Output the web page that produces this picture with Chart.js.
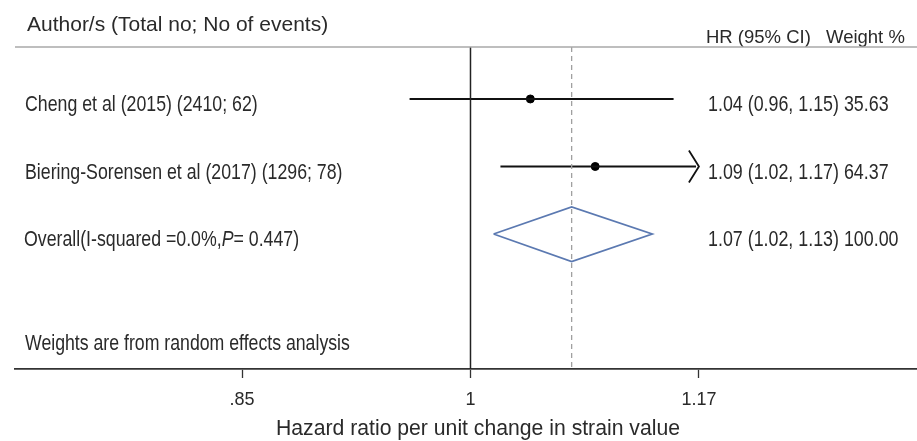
<!DOCTYPE html>
<html>
<head>
<meta charset="utf-8">
<script src="https://cdn.jsdelivr.net/npm/chart.js@4"></script>
<style>
  html, body { margin: 0; padding: 0; background: #fff; }
  #wrap { width: 917px; height: 441px; }
</style>
</head>
<body>
<div id="wrap"><canvas id="forest" width="917" height="441"></canvas></div>
<script>
// study rows (top to bottom)
const studies = ['Cheng et al (2015) (2410; 62)', 'Biering-Sorensen et al (2017) (1296; 78)'];
const hr = [1.042, 1.0895];
const lower = [0.959, 1.0208];
const upper = [1.1498, 1.174];
const weights = ['35.63', '64.37'];

// pooled estimate
const overallLabel = ['Overall(I-squared =0.0%,', 'P', '= 0.447)'];
const overallHr = 1.072;
const overallLower = 1.016;
const overallUpper = 1.133;
const overallWeight = '100.00';

// x axis (log scale, Stata style)
const tickValues = [1 / 1.17, 1, 1.17];
const tickLabels = ['.85', '1', '1.17'];

const FONT = '"Liberation Sans", Arial, sans-serif';
const TEXT = '#2a2a2a';

const rows = studies.map((_, i) => i + 1);
const overallRow = studies.length + 1;
const Y_MIN = 0.23, Y_MAX = 5.0;
const X_MIN = 0.7312, X_MAX = 1.3592;
const axisMax = tickValues[tickValues.length - 1];

const fmt = (v) => v.toFixed(2);

const ciSets = studies.map((s, i) => ({
  type: 'line',
  data: [{ x: lower[i], y: rows[i] }, { x: Math.min(upper[i], axisMax * 0.998), y: rows[i] }],
  borderColor: '#111',
  borderWidth: 2,
  pointRadius: 0,
  fill: false
}));

const pointSet = {
  type: 'scatter',
  data: hr.map((v, i) => ({ x: v, y: rows[i] })),
  backgroundColor: '#000',
  borderColor: '#000',
  pointRadius: 4
};

const diamondSet = {
  type: 'line',
  data: [
    { x: overallLower, y: overallRow },
    { x: overallHr, y: overallRow - 0.4 },
    { x: overallUpper, y: overallRow },
    { x: overallHr, y: overallRow + 0.41 },
    { x: overallLower, y: overallRow }
  ],
  borderColor: '#5b79b1',
  borderWidth: 1.8,
  pointRadius: 0,
  tension: 0,
  fill: false
};

const nullLine = {
  type: 'line',
  data: [{ x: 1, y: Y_MIN }, { x: 1, y: Y_MAX }],
  borderColor: '#222',
  borderWidth: 1.5,
  pointRadius: 0
};

const pooledLine = {
  type: 'line',
  data: [{ x: overallHr, y: Y_MIN }, { x: overallHr, y: Y_MAX }],
  borderColor: '#a0a0a0',
  borderWidth: 1.3,
  borderDash: [5, 4],
  pointRadius: 0
};

// text drawn with a horizontal squeeze to mimic Stata's narrow font
function put(ctx, text, x, y, size, squeeze, italic) {
  ctx.save();
  ctx.translate(x, y);
  ctx.scale(squeeze, 1);
  ctx.font = (italic ? 'italic ' : '') + size + 'px ' + FONT;
  ctx.fillText(text, 0, 0);
  const w = ctx.measureText(text).width * squeeze;
  ctx.restore();
  return w;
}

const forestText = {
  id: 'forestText',
  afterDatasetsDraw(chart) {
    const { ctx, scales: { x, y }, chartArea } = chart;
    ctx.save();
    ctx.fillStyle = TEXT;
    ctx.textBaseline = 'middle';
    ctx.textAlign = 'left';

    // header
    put(ctx, 'Author/s (Total no; No of events)', 27, 25, 21, 1);
    put(ctx, 'HR (95% CI)', 706, 38, 18.5, 1);
    put(ctx, 'Weight %', 826, 38, 18.5, 1);

    ctx.strokeStyle = '#a8a8a8';
    ctx.lineWidth = 1.3;
    ctx.beginPath();
    ctx.moveTo(chartArea.left, chartArea.top);
    ctx.lineTo(chartArea.right, chartArea.top);
    ctx.stroke();

    // study rows
    studies.forEach((s, i) => {
      const py = y.getPixelForValue(rows[i]) + 6.5;
      put(ctx, s, 25, py, 21.5, 0.825);
      put(ctx, fmt(hr[i]) + ' (' + fmt(lower[i]) + ', ' + fmt(upper[i]) + ') ' + weights[i], 708, py, 21.5, 0.83);
    });

    // overall row with italic P
    const oy = y.getPixelForValue(overallRow) + 6;
    let cx = 24;
    overallLabel.forEach((t, k) => {
      cx += put(ctx, t, cx, oy, 21.5, 0.825, k === 1);
    });
    put(ctx, fmt(overallHr) + ' (' + fmt(overallLower) + ', ' + fmt(overallUpper) + ') ' + overallWeight, 708, oy, 21.5, 0.83);

    put(ctx, 'Weights are from random effects analysis', 25, 344, 21.5, 0.823);

    // arrows where the CI runs past the axis
    ctx.strokeStyle = '#111';
    ctx.lineWidth = 1.8;
    upper.forEach((u, i) => {
      if (u >= axisMax) {
        const px = x.getPixelForValue(axisMax);
        const py = y.getPixelForValue(rows[i]);
        ctx.beginPath();
        ctx.moveTo(px - 10, py - 16);
        ctx.lineTo(px, py);
        ctx.lineTo(px - 10, py + 16);
        ctx.stroke();
      }
    });

    // axis title
    ctx.textAlign = 'center';
    put(ctx, 'Hazard ratio per unit change in strain value', 478, 429, 21.2, 1);
    ctx.restore();
  }
};

new Chart(document.getElementById('forest'), {
  data: { datasets: [nullLine, pooledLine, ...ciSets, diamondSet, pointSet] },
  options: {
    responsive: false,
    animation: false,
    layout: { autoPadding: false, padding: { left: 15, right: 0, top: 47, bottom: 0 } },
    plugins: { legend: { display: false }, tooltip: { enabled: false } },
    scales: {
      x: {
        type: 'logarithmic',
        min: X_MIN,
        max: X_MAX,
        afterBuildTicks: (scale) => { scale.ticks = tickValues.map((v) => ({ value: v })); },
        afterFit: (scale) => {
          scale.height = 72;
          scale.paddingLeft = 0;
          scale.paddingRight = 0;
        },
        border: { color: '#333', width: 1.8 },
        grid: { drawOnChartArea: false, tickLength: 9, color: '#333', tickWidth: 1.3 },
        ticks: {
          autoSkip: false,
          maxRotation: 0,
          padding: 11,
          color: TEXT,
          font: { family: FONT, size: 18 },
          callback: (v, i) => tickLabels[i]
        }
      },
      y: {
        display: false,
        reverse: true,
        min: Y_MIN,
        max: Y_MAX
      }
    }
  },
  plugins: [forestText]
});
</script>
</body>
</html>
